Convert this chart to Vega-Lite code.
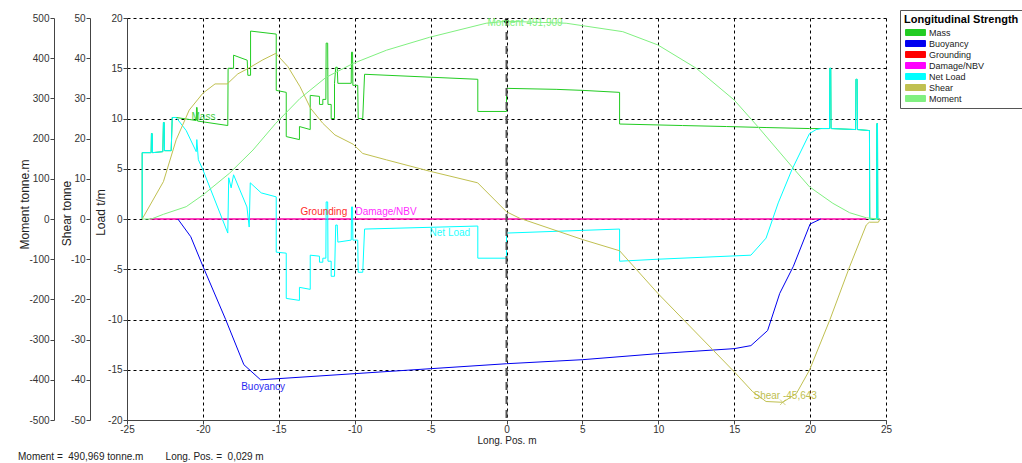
{
  "$schema": "https://vega.github.io/schema/vega-lite/v6.json",
  "width": 759,
  "height": 402,
  "autosize": "none",
  "padding": {"left": 127, "top": 18, "right": 136, "bottom": 43},
  "background": "#ffffff",
  "config": {
    "font": "Liberation Sans",
    "locale": {"number": {"decimal": ",", "thousands": ".", "grouping": [3], "currency": ["", ""], "minus": "-"}},
    "view": {"stroke": null},
    "axis": {
      "labelFont": "Liberation Sans", "labelFontSize": 10, "labelColor": "#333",
      "titleFont": "Liberation Sans", "titleFontWeight": "normal", "titleColor": "#222",
      "domainColor": "#444", "tickColor": "#444", "tickSize": 4, "labelPadding": 1,
      "gridColor": "#000", "gridDash": [3, 3], "gridOpacity": 1, "gridWidth": 1, "labelFlush": false
    }
  },
  "title": {
    "text": "Moment =\u00a0 490,969 tonne.m\u00a0\u00a0\u00a0\u00a0\u00a0\u00a0\u00a0 Long. Pos. =\u00a0 0,029 m",
    "orient": "bottom", "anchor": "start", "frame": "group", "dx": -109, "offset": 7,
    "fontSize": 10, "fontWeight": "normal", "color": "#222", "font": "Liberation Sans"
  },
  "datasets": {
    "net": [
      {"i":0,"x":-24.0,"y":0},{"i":1,"x":-24.0,"y":6.6},{"i":2,"x":-23.41,"y":6.6},{"i":3,"x":-23.39,"y":8.5},{"i":4,"x":-23.34,"y":8.5},{"i":5,"x":-23.32,"y":6.6},{"i":6,"x":-22.64,"y":6.7},{"i":7,"x":-22.6,"y":9.6},{"i":8,"x":-22.55,"y":9.6},{"i":9,"x":-22.53,"y":6.8},{"i":10,"x":-22.09,"y":6.8},{"i":11,"x":-22.02,"y":10.1},{"i":12,"x":-21.76,"y":10.1},{"i":13,"x":-21.1,"y":8.8},{"i":14,"x":-20.44,"y":6.7},{"i":15,"x":-20.4,"y":7.9},{"i":16,"x":-20.3,"y":5.9},{"i":17,"x":-20.0,"y":4.9},{"i":18,"x":-18.36,"y":-1.4},{"i":19,"x":-18.3,"y":4.1},{"i":20,"x":-18.14,"y":3.1},{"i":21,"x":-17.98,"y":4.4},{"i":22,"x":-17.1,"y":1.2},{"i":23,"x":-16.95,"y":-0.8},{"i":24,"x":-16.88,"y":3.6},{"i":25,"x":-16.16,"y":2.6},{"i":26,"x":-15.17,"y":2.2},{"i":27,"x":-15.17,"y":-3.3},{"i":28,"x":-14.51,"y":-3.4},{"i":29,"x":-14.51,"y":-7.9},{"i":30,"x":-13.64,"y":-8.1},{"i":31,"x":-13.64,"y":-6.8},{"i":32,"x":-12.93,"y":-7.0},{"i":33,"x":-12.93,"y":-3.6},{"i":34,"x":-12.32,"y":-3.7},{"i":35,"x":-12.32,"y":-4.3},{"i":36,"x":-12.1,"y":-4.3},{"i":37,"x":-12.1,"y":-3.9},{"i":38,"x":-11.9,"y":-3.9},{"i":39,"x":-11.88,"y":1.7},{"i":40,"x":-11.78,"y":1.7},{"i":41,"x":-11.76,"y":-4.2},{"i":42,"x":-11.55,"y":-4.2},{"i":43,"x":-11.55,"y":-5.7},{"i":44,"x":-11.33,"y":-5.7},{"i":45,"x":-11.25,"y":-0.6},{"i":46,"x":-11.15,"y":-0.6},{"i":47,"x":-11.11,"y":-2.3},{"i":48,"x":-10.23,"y":-2.1},{"i":49,"x":-10.21,"y":1.2},{"i":50,"x":-10.14,"y":1.2},{"i":51,"x":-10.12,"y":-2.1},{"i":52,"x":-9.8,"y":-2.1},{"i":53,"x":-9.77,"y":-5.3},{"i":54,"x":-9.47,"y":-5.3},{"i":55,"x":-9.35,"y":-1.0},{"i":56,"x":-1.89,"y":-0.7},{"i":57,"x":-1.89,"y":-3.9},{"i":58,"x":0,"y":-3.9},{"i":59,"x":0,"y":-1.4},{"i":60,"x":7.45,"y":-1.0},{"i":61,"x":7.45,"y":-4.2},{"i":62,"x":10,"y":-4.0},{"i":63,"x":16.1,"y":-3.6},{"i":64,"x":17.1,"y":-1.9},{"i":65,"x":17.9,"y":1.6},{"i":66,"x":18.8,"y":4.9},{"i":67,"x":19.96,"y":8.5},{"i":68,"x":20.4,"y":8.9},{"i":69,"x":20.73,"y":9.0},{"i":70,"x":21.28,"y":9.0},{"i":71,"x":21.3,"y":15.0},{"i":72,"x":21.36,"y":15.0},{"i":73,"x":21.38,"y":9.0},{"i":74,"x":23.0,"y":8.9},{"i":75,"x":23.02,"y":13.9},{"i":76,"x":23.1,"y":13.9},{"i":77,"x":23.12,"y":8.9},{"i":78,"x":23.91,"y":8.8},{"i":79,"x":23.93,"y":0},{"i":80,"x":24.38,"y":0},{"i":81,"x":24.4,"y":9.5},{"i":82,"x":24.44,"y":9.5},{"i":83,"x":24.46,"y":0},{"i":84,"x":24.6,"y":0}
    ],
    "mass": [
      {"i":0,"x":-24.0,"y":0},{"i":1,"x":-24.0,"y":6.6},{"i":2,"x":-23.41,"y":6.6},{"i":3,"x":-23.39,"y":8.5},{"i":4,"x":-23.34,"y":8.5},{"i":5,"x":-23.32,"y":6.6},{"i":6,"x":-22.64,"y":6.7},{"i":7,"x":-22.6,"y":9.6},{"i":8,"x":-22.55,"y":9.6},{"i":9,"x":-22.53,"y":6.8},{"i":10,"x":-22.09,"y":6.8},{"i":11,"x":-22.02,"y":10.1},{"i":12,"x":-21.76,"y":10.1},{"i":13,"x":-20.44,"y":9.8},{"i":14,"x":-20.42,"y":11.1},{"i":15,"x":-20.38,"y":11.1},{"i":16,"x":-20.36,"y":9.75},{"i":17,"x":-18.36,"y":9.3},{"i":18,"x":-18.34,"y":15.0},{"i":19,"x":-17.98,"y":15.0},{"i":20,"x":-17.98,"y":16.3},{"i":21,"x":-17.08,"y":15.8},{"i":22,"x":-17.04,"y":14.3},{"i":23,"x":-16.86,"y":14.3},{"i":24,"x":-16.86,"y":18.7},{"i":25,"x":-15.17,"y":18.4},{"i":26,"x":-15.17,"y":12.8},{"i":27,"x":-14.51,"y":12.6},{"i":28,"x":-14.51,"y":8.2},{"i":29,"x":-13.64,"y":7.9},{"i":30,"x":-13.64,"y":9.2},{"i":31,"x":-12.93,"y":8.9},{"i":32,"x":-12.93,"y":12.3},{"i":33,"x":-12.32,"y":12.2},{"i":34,"x":-12.32,"y":11.4},{"i":35,"x":-12.1,"y":11.4},{"i":36,"x":-12.1,"y":11.9},{"i":37,"x":-11.9,"y":11.9},{"i":38,"x":-11.88,"y":17.5},{"i":39,"x":-11.78,"y":17.5},{"i":40,"x":-11.76,"y":11.4},{"i":41,"x":-11.55,"y":11.4},{"i":42,"x":-11.55,"y":10.0},{"i":43,"x":-11.33,"y":10.0},{"i":44,"x":-11.33,"y":13.5},{"i":45,"x":-11.25,"y":15.1},{"i":46,"x":-11.15,"y":15.1},{"i":47,"x":-11.11,"y":13.5},{"i":48,"x":-10.23,"y":13.5},{"i":49,"x":-10.21,"y":16.6},{"i":50,"x":-10.14,"y":16.6},{"i":51,"x":-10.12,"y":13.3},{"i":52,"x":-9.8,"y":13.3},{"i":53,"x":-9.77,"y":10.0},{"i":54,"x":-9.47,"y":10.0},{"i":55,"x":-9.35,"y":14.4},{"i":56,"x":-1.89,"y":13.9},{"i":57,"x":-1.89,"y":10.7},{"i":58,"x":0,"y":10.7},{"i":59,"x":0,"y":13.0},{"i":60,"x":3.27,"y":12.9},{"i":61,"x":5.0,"y":12.8},{"i":62,"x":7.45,"y":12.6},{"i":63,"x":7.45,"y":9.45},{"i":64,"x":11.6,"y":9.3},{"i":65,"x":14.5,"y":9.2},{"i":66,"x":17.1,"y":9.1},{"i":67,"x":19.96,"y":9.0},{"i":68,"x":21.28,"y":9.0},{"i":69,"x":21.3,"y":15.0},{"i":70,"x":21.36,"y":15.0},{"i":71,"x":21.38,"y":9.0},{"i":72,"x":23.0,"y":8.9},{"i":73,"x":23.02,"y":13.9},{"i":74,"x":23.1,"y":13.9},{"i":75,"x":23.12,"y":8.9},{"i":76,"x":23.91,"y":8.8},{"i":77,"x":23.93,"y":0},{"i":78,"x":24.38,"y":0},{"i":79,"x":24.4,"y":9.5},{"i":80,"x":24.44,"y":9.5},{"i":81,"x":24.46,"y":0},{"i":82,"x":24.6,"y":0}
    ],
    "buoy": [
      {"i":0,"x":-21.65,"y":0},{"i":1,"x":-20.8,"y":-1.76},{"i":2,"x":-20.0,"y":-4.7},{"i":3,"x":-18.5,"y":-10.0},{"i":4,"x":-17.3,"y":-14.5},{"i":5,"x":-16.2,"y":-16.0},{"i":6,"x":0,"y":-14.4},{"i":7,"x":5.0,"y":-14.0},{"i":8,"x":9.96,"y":-13.4},{"i":9,"x":15.0,"y":-12.9},{"i":10,"x":16.1,"y":-12.6},{"i":11,"x":17.2,"y":-11.1},{"i":12,"x":18.0,"y":-7.4},{"i":13,"x":18.9,"y":-4.7},{"i":14,"x":20.0,"y":-0.5},{"i":15,"x":20.7,"y":0}
    ],
    "grd": [
      {"g":"a","i":0,"x":-23.5,"y":0},{"g":"a","i":1,"x":23.7,"y":0},
      {"g":"b","i":2,"x":0,"y":-1.4},{"g":"b","i":3,"x":0,"y":-2.6}
    ],
    "dmg": [
      {"g":"a","i":0,"x":-23.5,"y":0},{"g":"a","i":1,"x":23.7,"y":0},
      {"g":"b","i":2,"x":0,"y":11.5},{"g":"b","i":3,"x":0,"y":13.0}
    ],
    "shear": [
      {"i":0,"x":-24.0,"y":0},{"i":1,"x":-22.6,"y":9.3},{"i":2,"x":-21.76,"y":19.7},{"i":3,"x":-20.9,"y":27.1},{"i":4,"x":-20.0,"y":31.3},{"i":5,"x":-19.2,"y":33.6},{"i":6,"x":-18.4,"y":33.6},{"i":7,"x":-17.7,"y":36.1},{"i":8,"x":-17.0,"y":37.5},{"i":9,"x":-16.05,"y":39.6},{"i":10,"x":-15.2,"y":41.2},{"i":11,"x":-14.4,"y":37.9},{"i":12,"x":-13.6,"y":32.9},{"i":13,"x":-12.9,"y":27.5},{"i":14,"x":-12.1,"y":23.8},{"i":15,"x":-11.3,"y":20.9},{"i":16,"x":-10.1,"y":18.6},{"i":17,"x":-9.47,"y":16.3},{"i":18,"x":-7.9,"y":14.7},{"i":19,"x":-5.07,"y":11.9},{"i":20,"x":-1.9,"y":9.0},{"i":21,"x":0,"y":1.8},{"i":22,"x":0.86,"y":0.2},{"i":23,"x":5.0,"y":-5.1},{"i":24,"x":7.45,"y":-7.9},{"i":25,"x":9.97,"y":-18.5},{"i":26,"x":15.0,"y":-38.0},{"i":27,"x":16.2,"y":-42.9},{"i":28,"x":17.1,"y":-45.4},{"i":29,"x":18.2,"y":-45.6},{"i":30,"x":19.1,"y":-43.4},{"i":31,"x":19.96,"y":-37.6},{"i":32,"x":21.3,"y":-25.1},{"i":33,"x":22.6,"y":-11.9},{"i":34,"x":23.7,"y":-1.5},{"i":35,"x":23.9,"y":-0.8},{"i":36,"x":24.5,"y":-0.8},{"i":37,"x":24.6,"y":0}
    ],
    "moment": [
      {"i":0,"x":-24.0,"y":0},{"i":1,"x":-23.4,"y":0},{"i":2,"x":-22.6,"y":11.7},{"i":3,"x":-21.1,"y":30.6},{"i":4,"x":-20.0,"y":59.7},{"i":5,"x":-18.25,"y":113.7},{"i":6,"x":-16.7,"y":171.6},{"i":7,"x":-15.2,"y":238},{"i":8,"x":-13.6,"y":300},{"i":9,"x":-11.9,"y":352},{"i":10,"x":-10.1,"y":387},{"i":11,"x":-7.9,"y":420},{"i":12,"x":-5.07,"y":452},{"i":13,"x":-1.34,"y":487},{"i":14,"x":0,"y":491.9},{"i":15,"x":3.93,"y":487},{"i":16,"x":7.66,"y":466},{"i":17,"x":9.97,"y":433},{"i":18,"x":12.5,"y":375},{"i":19,"x":15.0,"y":296},{"i":20,"x":16.55,"y":230},{"i":21,"x":18.9,"y":126},{"i":22,"x":19.96,"y":80},{"i":23,"x":21.5,"y":39},{"i":24,"x":22.6,"y":15.7},{"i":25,"x":23.7,"y":3},{"i":26,"x":24.5,"y":0}
    ],
    "loadlabels": [
      {"t":"Mass","s":"Mass","x":-20.75,"y":10.15},
      {"t":"Grounding","s":"Grounding","x":-13.57,"y":0.67},
      {"t":"Damage/NBV","s":"Damage/NBV","x":-9.95,"y":0.67},
      {"t":"Net Load","s":"Net Load","x":-5.07,"y":-1.42},
      {"t":"Buoyancy","s":"Buoyancy","x":-17.48,"y":-16.7}
    ]
  },
  "layer": [
    {
      "layer": [
        {
          "data": {"name": "grd"},
          "mark": {"type": "line", "strokeWidth": 1},
          "encoding": {
            "x": {"field": "x", "type": "quantitative", "scale": {"domain": [-25, 25], "nice": false, "zero": false},
                  "axis": {"values": [-25,-20,-15,-10,-5,0,5,10,15,20,25], "grid": true, "title": "Long. Pos.  m", "titleFontSize": 10, "titlePadding": 1, "labelPadding": 0}},
            "y": {"field": "y", "type": "quantitative", "scale": {"domain": [-20, 20], "nice": false, "zero": false},
                  "axis": {"orient": "left", "offset": 0, "values": [-20,-15,-10,-5,0,5,10,15,20], "grid": true, "title": "Load  t/m", "titleFontSize": 12, "titleX": -27, "titleY": 194, "titleAngle": -90, "titleAlign": "center", "titleBaseline": "middle"}},
            "color": {"datum": "Grounding", "type": "nominal",
                      "scale": {"domain": ["Mass","Buoyancy","Grounding","Damage/NBV","Net Load","Shear","Moment"], "range": ["#22cc22","#0000f0","#ff0000","#ff00ff","#00ffff","#c0c050","#80f080"]},
                      "legend": {"orient": "none", "legendX": 773, "legendY": -8, "title": "Longitudinal Strength",
                                 "symbolType": "M-3,-0.9H3V0.9H-3Z", "symbolSize": 44, "symbolOffset": 7, "columns": 1,
                                 "strokeColor": "#555", "fillColor": "#ffffff", "padding": 4,
                                 "titleFont": "Liberation Sans", "titleFontSize": 11, "titleFontWeight": "bold", "titleColor": "#000", "titlePadding": 3,
                                 "labelFont": "Liberation Sans", "labelFontSize": 9, "labelColor": "#222", "labelOffset": 9, "rowPadding": 0,
                                 "encode": {"symbols": {"update": {"fill": {"scale": "color", "field": "value"}, "stroke": {"value": "#000"}, "strokeWidth": {"value": 1}, "opacity": {"value": 1}, "fillOpacity": {"value": 1}}}}}},
            "detail": {"field": "g"},
            "order": {"field": "i"}
          }
        },
        {
          "data": {"name": "dmg"},
          "mark": {"type": "line", "strokeWidth": 1},
          "encoding": {
            "x": {"field": "x", "type": "quantitative", "scale": {"domain": [-25, 25], "nice": false, "zero": false}},
            "y": {"field": "y", "type": "quantitative"},
            "color": {"datum": "Damage/NBV", "type": "nominal", "scale": {"domain": ["Mass","Buoyancy","Grounding","Damage/NBV","Net Load","Shear","Moment"], "range": ["#22cc22","#0000f0","#ff0000","#ff00ff","#00ffff","#c0c050","#80f080"]}},
            "detail": {"field": "g"},
            "order": {"field": "i"}
          }
        },
        {
          "data": {"name": "buoy"},
          "mark": {"type": "line", "strokeWidth": 1},
          "encoding": {
            "x": {"field": "x", "type": "quantitative", "scale": {"domain": [-25, 25], "nice": false, "zero": false}},
            "y": {"field": "y", "type": "quantitative"},
            "color": {"datum": "Buoyancy", "type": "nominal", "scale": {"domain": ["Mass","Buoyancy","Grounding","Damage/NBV","Net Load","Shear","Moment"], "range": ["#22cc22","#0000f0","#ff0000","#ff00ff","#00ffff","#c0c050","#80f080"]}},
            "order": {"field": "i"}
          }
        },
        {
          "data": {"name": "mass"},
          "mark": {"type": "line", "strokeWidth": 1},
          "encoding": {
            "x": {"field": "x", "type": "quantitative", "scale": {"domain": [-25, 25], "nice": false, "zero": false}},
            "y": {"field": "y", "type": "quantitative"},
            "color": {"datum": "Mass", "type": "nominal", "scale": {"domain": ["Mass","Buoyancy","Grounding","Damage/NBV","Net Load","Shear","Moment"], "range": ["#22cc22","#0000f0","#ff0000","#ff00ff","#00ffff","#c0c050","#80f080"]}},
            "order": {"field": "i"}
          }
        },
        {
          "data": {"name": "net"},
          "mark": {"type": "line", "strokeWidth": 1},
          "encoding": {
            "x": {"field": "x", "type": "quantitative", "scale": {"domain": [-25, 25], "nice": false, "zero": false}},
            "y": {"field": "y", "type": "quantitative"},
            "color": {"datum": "Net Load", "type": "nominal", "scale": {"domain": ["Mass","Buoyancy","Grounding","Damage/NBV","Net Load","Shear","Moment"], "range": ["#22cc22","#0000f0","#ff0000","#ff00ff","#00ffff","#c0c050","#80f080"]}},
            "order": {"field": "i"}
          }
        },
        {
          "data": {"name": "loadlabels"},
          "mark": {"type": "text", "align": "left", "baseline": "middle", "fontSize": 10, "font": "Liberation Sans", "opacity": 0.85},
          "encoding": {
            "x": {"field": "x", "type": "quantitative", "scale": {"domain": [-25, 25], "nice": false, "zero": false}},
            "y": {"field": "y", "type": "quantitative"},
            "text": {"field": "t"},
            "color": {"field": "s", "type": "nominal", "scale": {"domain": ["Mass","Buoyancy","Grounding","Damage/NBV","Net Load","Shear","Moment"], "range": ["#22cc22","#0000f0","#ff0000","#ff00ff","#00ffff","#c0c050","#80f080"]}}
          }
        },
        {
          "data": {"values": [{"x": 0}]},
          "mark": {"type": "rule", "color": "#555", "strokeWidth": 2, "strokeDash": [8, 6]},
          "encoding": {
            "x": {"field": "x", "type": "quantitative", "scale": {"domain": [-25, 25], "nice": false, "zero": false}}
          }
        }
      ]
    },
    {
      "layer": [
        {
          "data": {"name": "shear"},
          "mark": {"type": "line", "strokeWidth": 1},
          "encoding": {
            "x": {"field": "x", "type": "quantitative", "scale": {"domain": [-25, 25], "nice": false, "zero": false}},
            "y": {"field": "y", "type": "quantitative", "scale": {"domain": [-50, 50], "nice": false, "zero": false},
                  "axis": {"orient": "left", "offset": 37, "values": [-50,-40,-30,-20,-10,0,10,20,30,40,50], "grid": false, "title": "Shear  tonne", "titleFontSize": 12, "titleX": -24, "titleY": 195, "titleAngle": -90, "titleAlign": "center", "titleBaseline": "middle"}},
            "color": {"datum": "Shear", "type": "nominal", "scale": {"domain": ["Mass","Buoyancy","Grounding","Damage/NBV","Net Load","Shear","Moment"], "range": ["#22cc22","#0000f0","#ff0000","#ff00ff","#00ffff","#c0c050","#80f080"]}},
            "order": {"field": "i"}
          }
        },
        {
          "data": {"values": [{"x": 18.2, "y": -45.6}]},
          "mark": {"type": "point", "shape": "M-1,-1L1,1M-1,1L1,-1", "size": 30, "filled": false, "strokeWidth": 1, "color": "#c0c050"},
          "encoding": {
            "x": {"field": "x", "type": "quantitative", "scale": {"domain": [-25, 25], "nice": false, "zero": false}},
            "y": {"field": "y", "type": "quantitative"}
          }
        },
        {
          "data": {"values": [{"t": "Shear -45,643", "x": 16.27, "y": -44.0}]},
          "mark": {"type": "text", "align": "left", "baseline": "middle", "fontSize": 10, "font": "Liberation Sans", "color": "#c0c050"},
          "encoding": {
            "x": {"field": "x", "type": "quantitative", "scale": {"domain": [-25, 25], "nice": false, "zero": false}},
            "y": {"field": "y", "type": "quantitative"},
            "text": {"field": "t"}
          }
        }
      ]
    },
    {
      "layer": [
        {
          "data": {"name": "moment"},
          "mark": {"type": "line", "strokeWidth": 1},
          "encoding": {
            "x": {"field": "x", "type": "quantitative", "scale": {"domain": [-25, 25], "nice": false, "zero": false}},
            "y": {"field": "y", "type": "quantitative", "scale": {"domain": [-500, 500], "nice": false, "zero": false},
                  "axis": {"orient": "left", "offset": 73, "values": [-500,-400,-300,-200,-100,0,100,200,300,400,500], "grid": false, "title": "Moment  tonne.m", "titleFontSize": 12, "titleX": -30, "titleY": 186, "titleAngle": -90, "titleAlign": "center", "titleBaseline": "middle"}},
            "color": {"datum": "Moment", "type": "nominal", "scale": {"domain": ["Mass","Buoyancy","Grounding","Damage/NBV","Net Load","Shear","Moment"], "range": ["#22cc22","#0000f0","#ff0000","#ff00ff","#00ffff","#c0c050","#80f080"]}},
            "order": {"field": "i"}
          }
        },
        {
          "data": {"values": [{"x": 0, "y": 491.9}]},
          "mark": {"type": "point", "filled": true, "size": 22, "color": "#000", "opacity": 1},
          "encoding": {
            "x": {"field": "x", "type": "quantitative", "scale": {"domain": [-25, 25], "nice": false, "zero": false}},
            "y": {"field": "y", "type": "quantitative"}
          }
        },
        {
          "data": {"values": [{"t": "Moment 491,909", "x": -1.25, "y": 487.6}]},
          "mark": {"type": "text", "align": "left", "baseline": "middle", "fontSize": 10, "font": "Liberation Sans", "color": "#80f080"},
          "encoding": {
            "x": {"field": "x", "type": "quantitative", "scale": {"domain": [-25, 25], "nice": false, "zero": false}},
            "y": {"field": "y", "type": "quantitative"},
            "text": {"field": "t"}
          }
        }
      ]
    }
  ],
  "resolve": {"scale": {"y": "independent"}}
}
